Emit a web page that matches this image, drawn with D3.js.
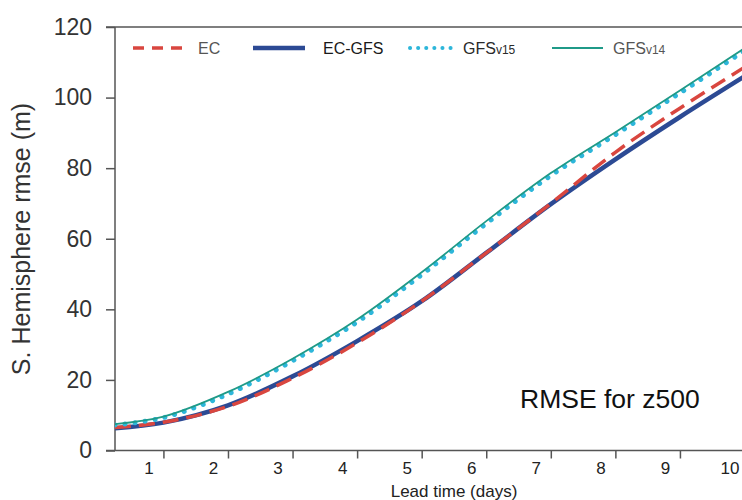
<!DOCTYPE html>
<html><head><meta charset="utf-8">
<script src="https://cdn.jsdelivr.net/npm/d3@7"></script>
<style>
body{margin:0;background:#fff}
svg{display:block;font-family:"Liberation Sans",Arial,Helvetica,sans-serif}
</style>
</head><body>
<svg id="c" width="742" height="500"></svg>
<script>
// ---- data ----
const leadDays = [0.25, 1, 2, 3, 4, 5, 6, 7, 8, 9, 10];
const ecValues     = [6.5, 8.0, 12.5, 20.5, 30.5, 42.3, 56.0, 70.0, 84.5, 97.0, 108.6];
const ecGfsValues  = [6.3, 7.9, 12.8, 21.0, 31.0, 42.3, 56.0, 69.8, 82.5, 94.5, 106.0];
const gfsV15Values = [7.2, 9.3, 16.0, 25.4, 36.4, 49.8, 64.3, 77.9, 89.5, 101.3, 113.3];
const gfsV14Values = [7.5, 9.6, 16.6, 26.0, 37.1, 50.5, 65.0, 78.6, 90.2, 102.0, 114.0];
const xTickValues = [1, 2, 3, 4, 5, 6, 7, 8, 9, 10];
const yTickValues = [0, 20, 40, 60, 80, 100, 120];
const legendNames = ["EC", "EC-GFS", "GFS", "GFS"];
const legendSubs  = ["", "", "v15", "v14"];

// ---- layout ----
const svg = d3.select("#c");
const x = d3.scaleLinear().domain([0.25, 10]).range([115, 744.5]);
const y = d3.scaleLinear().domain([0, 120]).range([450.5, 27]);
const axisColor = "#555";

svg.append("defs").append("clipPath").attr("id", "clip")
  .append("rect").attr("x", x(0.25)).attr("y", 0).attr("width", 742 - x(0.25)).attr("height", 500);

// y axis
const yAxis = svg.append("g").attr("transform", `translate(${x(0.25)},0)`)
  .call(d3.axisLeft(y).tickValues(yTickValues).tickSize(9).tickPadding(14));
yAxis.select(".domain").remove();
yAxis.selectAll(".tick line").attr("stroke", axisColor).attr("stroke-width", 1.5);
yAxis.selectAll(".tick text").attr("fill", "#333").style("font-size", "23px");

// x axis
const xAxis = svg.append("g").attr("transform", `translate(0,${y(0)})`)
  .call(d3.axisBottom(x).tickValues(xTickValues).tickSize(8));
xAxis.select(".domain").remove();
xAxis.selectAll(".tick line").attr("stroke", axisColor).attr("stroke-width", 1.5);
xAxis.selectAll(".tick text").attr("fill", "#222").style("font-size", "17px")
  .attr("y", 23.5).attr("dy", 0).attr("dx", -15);

// frame lines
svg.append("line").attr("x1", 106).attr("x2", 742).attr("y1", y(0)).attr("y2", y(0))
  .attr("stroke", axisColor).attr("stroke-width", 1.5);
svg.append("line").attr("x1", 106).attr("x2", 742).attr("y1", y(120)).attr("y2", y(120))
  .attr("stroke", axisColor).attr("stroke-width", 1.5);
svg.append("line").attr("x1", x(0.25)).attr("x2", x(0.25)).attr("y1", y(120)).attr("y2", y(0))
  .attr("stroke", axisColor).attr("stroke-width", 1.5);

// axis titles
svg.append("text").attr("transform", "translate(30,239) rotate(-90)")
  .attr("text-anchor", "middle").attr("fill", "#333").style("font-size", "25px")
  .text("S. Hemisphere rmse (m)");
svg.append("text").attr("x", 454).attr("y", 497).attr("text-anchor", "middle")
  .attr("fill", "#222").style("font-size", "17px").text("Lead time (days)");
svg.append("text").attr("x", 520).attr("y", 408).attr("fill", "#111")
  .style("font-size", "26.5px").text("RMSE for z500");

// series
const styles = [
  {vals: ecGfsValues,  stroke: "#2c4a94", width: 4.5, dash: null, cap: "butt"},
  {vals: ecValues,     stroke: "#d9463f", width: 3.5, dash: "16,8", cap: "butt"},
  {vals: gfsV15Values, stroke: "#2db6da", width: 5,   dash: "0.1,10", cap: "round"},
  {vals: gfsV14Values, stroke: "#1f9a88", width: 1.8, dash: null, cap: "butt"}
];
const line = d3.line().x((d, i) => x(leadDays[i])).y(d => y(d)).curve(d3.curveCatmullRom.alpha(0.5));
const plot = svg.append("g").attr("clip-path", "url(#clip)");
styles.forEach(s => {
  plot.append("path").datum(s.vals).attr("d", line).attr("fill", "none")
    .attr("stroke", s.stroke).attr("stroke-width", s.width)
    .attr("stroke-dasharray", s.dash).attr("stroke-linecap", s.cap);
});

// legend
const legendItems = [
  {name: legendNames[0], sub: legendSubs[0], st: styles[1], x1: 133, x2: 188, tx: 198, color: "#555"},
  {name: legendNames[1], sub: legendSubs[1], st: styles[0], x1: 253, x2: 305, tx: 323, color: "#1a1a1a"},
  {name: legendNames[2], sub: legendSubs[2], st: styles[2], x1: 410, x2: 452, tx: 463, color: "#2a2a2a"},
  {name: legendNames[3], sub: legendSubs[3], st: styles[3], x1: 552, x2: 603, tx: 613, color: "#555"}
];
const lg = svg.append("g");
legendItems.forEach(it => {
  lg.append("line").attr("x1", it.x1).attr("x2", it.x2).attr("y1", 48).attr("y2", 48)
    .attr("stroke", it.st.stroke).attr("stroke-width", it.st.width === 5 ? 4 : it.st.width)
    .attr("stroke-dasharray", it.st.dash === "16,8" ? "11,8" : (it.st.dash ? "0.1,8" : null))
    .attr("stroke-linecap", it.st.cap);
  const t = lg.append("text").attr("x", it.tx).attr("y", 54).attr("fill", it.color)
    .style("font-size", "16px").text(it.name);
  if (it.sub) t.append("tspan").style("font-size", "12px").text(it.sub);
});
</script>
</body></html>
